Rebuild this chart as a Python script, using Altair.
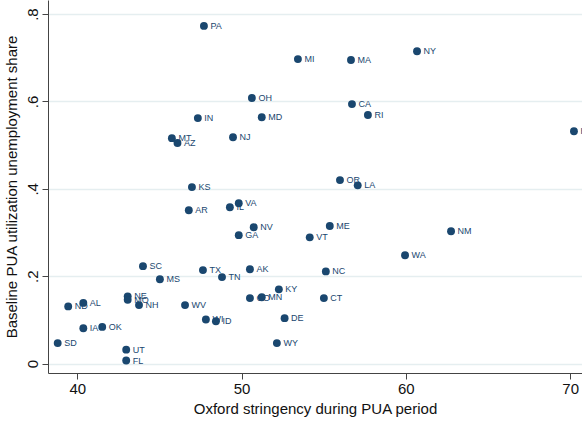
import altair as alt
import pandas as pd

# State-level values: stringency index vs. baseline PUA share
states = ["PA", "MI", "MA", "NY", "OH", "CA", "RI", "IN", "MD", "NJ",
          "MT", "AZ", "HI", "KS", "OR", "LA", "AR", "IL", "VA", "NV",
          "GA", "ME", "VT", "NM", "WA", "SC", "MS", "TX", "TN", "AK",
          "NC", "KY", "CO", "MN", "CT", "WV", "WI", "ID", "DE", "WY",
          "NE", "MO", "NH", "ND", "AL", "IA", "OK", "SD", "UT", "FL"]
stringency = [47.71, 53.43, 56.66, 60.68, 50.63, 56.72, 57.69, 47.34, 51.23, 49.48,
              45.76, 46.10, 70.23, 46.98, 55.99, 57.07, 46.79, 49.29, 49.83, 50.74,
              49.83, 55.37, 54.15, 62.75, 59.95, 44.00, 45.03, 47.65, 48.81, 50.51,
              55.13, 52.27, 50.51, 51.23, 55.01, 46.56, 47.83, 48.44, 52.62, 52.15,
              43.07, 43.07, 43.76, 39.45, 40.37, 40.37, 41.52, 38.81, 42.98, 42.98]
pua_share = [0.773, 0.697, 0.695, 0.715, 0.608, 0.594, 0.569, 0.562, 0.564, 0.518,
             0.516, 0.505, 0.532, 0.404, 0.420, 0.408, 0.351, 0.358, 0.367, 0.312,
             0.294, 0.315, 0.289, 0.303, 0.248, 0.223, 0.193, 0.214, 0.198, 0.216,
             0.211, 0.170, 0.150, 0.152, 0.150, 0.134, 0.101, 0.097, 0.104, 0.047,
             0.154, 0.146, 0.134, 0.131, 0.139, 0.081, 0.084, 0.047, 0.032, 0.007]

x_ticks = [40, 50, 60, 70]
y_ticks = [0, 0.2, 0.4, 0.6, 0.8]

df = pd.DataFrame({"state": states, "stringency": stringency, "share": pua_share})

FONT = "Liberation Sans"
NAVY = "#1a476f"
AXIS_COL = "#444444"

x = alt.X(
    "stringency:Q",
    title="Oxford stringency during PUA period",
    scale=alt.Scale(domain=[38.22, 70.72], nice=False, zero=False),
    axis=alt.Axis(values=x_ticks, format="d", grid=False, tickSize=6,
                  labelPadding=2, titlePadding=5),
)
y = alt.Y(
    "share:Q",
    title="Baseline PUA utilization unemployment share",
    scale=alt.Scale(domain=[-0.0215, 0.8323], nice=False, zero=False),
    axis=alt.Axis(
        values=y_ticks,
        labelExpr="datum.value == 0 ? '0' : replace(format(datum.value, '.1f'), '0.', '.')",
        labelAngle=-90, labelAlign="center", labelBaseline="bottom",
        grid=True, gridColor="#e5eef0", gridWidth=1.3,
        tickSize=6, labelPadding=2, titlePadding=6,
    ),
)

labels = alt.Chart(df).mark_text(
    align="left", baseline="middle", dx=6.5, font=FONT, fontSize=9, color=NAVY
).encode(x=x, y=y, text="state:N")

points = alt.Chart(df).mark_circle(size=62, opacity=1, color=NAVY).encode(x=x, y=y)

chart = (
    alt.layer(labels, points)
    .properties(
        width=534, height=373,
        autosize=alt.AutoSizeParams(type="none"),
        padding={"left": 48, "top": 0, "right": 0, "bottom": 48},
        background="white",
    )
    .configure_view(stroke=None)
    .configure_axis(
        labelFont=FONT, titleFont=FONT, labelFontSize=15, titleFontSize=15,
        labelColor="#111111", titleColor="#111111", titleFontWeight="normal",
        domainColor=AXIS_COL, tickColor=AXIS_COL, domainWidth=1, tickWidth=1,
    )
)

chart.save("out.html", embed_options={"renderer": "svg", "actions": False})
